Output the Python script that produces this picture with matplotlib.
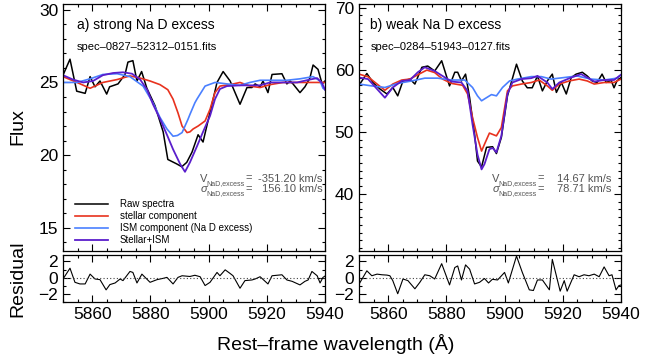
import matplotlib
matplotlib.use("Agg")
import matplotlib.pyplot as plt
from matplotlib.ticker import MultipleLocator
import numpy as np

# ---------------------------------------------------------------
#   datos (longitud de onda en A, flujo)
# ---------------------------------------------------------------

# panel a) strong Na D excess
lam_raw_a = [5850.1, 5852.4, 5854.7, 5857.6, 5859.3, 5861.0, 5862.7, 5865.0, 5866.0, 5868.9,
             5871.3, 5872.3, 5874.0, 5875.4, 5877.0, 5878.8, 5881.6, 5884.4, 5886.0, 5889.0,
             5890.8, 5892.5, 5894.3, 5896.4, 5898.1, 5901.5, 5902.9, 5905.0, 5907.4, 5910.8,
             5913.2, 5914.9, 5916.0, 5917.7, 5918.7, 5920.4, 5921.8, 5925.2, 5926.9, 5928.0,
             5929.0, 5931.4, 5933.1, 5934.8, 5935.9, 5937.6, 5939.0, 5940.0]
raw_a = [25.55, 26.6, 24.4, 24.25, 25.4, 24.7, 25.1, 24.2, 24.7, 24.9,
         25.55, 26.4, 26.5, 25.1, 25.75, 24.6, 23.4, 21.6, 19.7, 19.4,
         19.2, 19.5, 20.2, 21.4, 20.9, 23.8, 25.0, 25.75, 25.1, 23.5,
         24.65, 24.65, 24.9, 24.7, 25.1, 24.3, 25.55, 25.6, 24.9, 25.1,
         24.9, 24.3, 24.7, 25.3, 26.2, 25.9, 24.9, 25.1]

lam_star_a = [5850.0, 5854.8, 5859.3, 5863.7, 5868.6, 5873.0, 5876.5, 5879.9, 5883.3, 5886.0,
              5887.8, 5889.5, 5890.9, 5892.6, 5893.6, 5894.7, 5896.4, 5898.8, 5900.5, 5902.2,
              5903.9, 5907.4, 5910.8, 5914.2, 5917.7, 5921.1, 5925.6, 5930.4, 5934.8, 5940.0]
star_a = [25.4, 25.0, 24.6, 25.0, 25.2, 25.45, 25.3, 25.1, 24.85, 24.5,
          23.85, 22.9, 22.0, 21.55, 21.6, 21.8, 22.0, 22.35, 23.15, 24.3,
          24.75, 24.85, 25.0, 24.75, 24.65, 24.85, 25.0, 25.0, 25.0, 25.0]

lam_ism_a = [5850.0, 5854.8, 5859.3, 5863.7, 5868.6, 5873.0, 5877.5, 5880.9, 5883.3, 5885.7,
             5887.8, 5889.3, 5890.9, 5892.9, 5893.6, 5895.3, 5896.0, 5898.8, 5902.2, 5906.3,
             5910.8, 5914.2, 5917.7, 5922.1, 5926.9, 5931.4, 5935.9, 5938.3, 5939.3, 5940.0]
ism_a = [25.0, 25.0, 25.25, 25.55, 25.6, 25.4, 24.75, 23.6, 22.6, 21.8,
         21.3, 21.35, 21.55, 22.45, 22.8, 23.6, 23.85, 24.75, 25.0, 24.9,
         24.8, 25.0, 25.15, 25.15, 25.15, 25.25, 25.4, 25.1, 24.6, 24.5]

lam_tot_a = [5850.0, 5853.4, 5856.9, 5860.3, 5863.7, 5867.2, 5870.6, 5873.7, 5876.5, 5878.9,
             5880.9, 5883.3, 5885.7, 5887.8, 5890.2, 5891.9, 5893.6, 5896.0, 5898.1, 5900.5,
             5902.2, 5903.9, 5906.3, 5910.8, 5914.2, 5917.7, 5921.1, 5925.6, 5930.4, 5934.8,
             5937.3, 5939.0, 5940.0]
tot_a = [25.5, 25.2, 25.0, 25.1, 25.5, 25.65, 25.7, 25.6, 25.2, 24.5,
         23.5, 22.5, 21.4, 20.4, 19.4, 18.85, 19.5, 20.6, 21.6, 22.7,
         23.85, 24.55, 24.75, 24.8, 24.8, 24.8, 25.0, 25.0, 25.0, 25.2,
         25.3, 24.95, 24.5]

lam_res_a = [5850.0, 5852.4, 5854.1, 5855.8, 5857.6, 5859.3, 5861.0, 5862.7, 5864.8, 5866.1,
             5867.9, 5869.6, 5870.6, 5873.0, 5874.0, 5875.4, 5877.1, 5878.2, 5879.9, 5882.3,
             5884.4, 5885.7, 5887.8, 5889.5, 5890.9, 5893.6, 5895.3, 5897.1, 5898.8, 5900.5,
             5902.9, 5903.9, 5905.7, 5907.4, 5908.4, 5910.8, 5912.5, 5914.9, 5916.0, 5917.7,
             5920.4, 5921.8, 5925.2, 5926.9, 5928.7, 5931.4, 5933.1, 5934.2, 5935.5, 5937.3,
             5938.3, 5939.3, 5940.0]
res_a = [-0.16, 1.17, -0.57, -0.77, -0.77, 0.44, -0.16, -0.24, -1.5, -0.85,
         -0.65, -0.16, -0.36, 0.77, 0.65, -0.65, 0.44, 0.04, -0.57, -0.24,
         -0.08, 0.04, -0.77, 0.04, 0.24, 0.15, 0.3, 0.12, -0.97, -0.57,
         0.65, 0.24, 0.97, 0.52, 0.24, -1.3, -0.36, -0.28, -0.16, 0.12,
         -0.77, 0.24, 0.36, -0.28, -0.45, -0.89, -0.45, -0.28, 0.77, 0.24,
         -0.65, 0.04, 0.2]

# panel b) weak Na D excess
lam_raw_b = [5850.0, 5852.7, 5854.8, 5857.2, 5859.6, 5861.6, 5863.3, 5865.1, 5867.5, 5869.2,
             5871.6, 5873.6, 5876.0, 5878.4, 5881.1, 5882.9, 5883.9, 5885.2, 5886.6, 5888.0,
             5889.7, 5890.7, 5892.1, 5893.8, 5895.9, 5897.2, 5898.9, 5901.0, 5904.1, 5906.1,
             5907.8, 5909.5, 5911.3, 5913.0, 5914.7, 5916.4, 5917.8, 5919.5, 5921.2, 5922.9,
             5924.6, 5926.7, 5928.4, 5930.1, 5931.8, 5933.5, 5934.9, 5936.6, 5937.6, 5938.6,
             5940.0]
raw_b = [57.5, 59.4, 57.95, 56.9, 56.1, 57.15, 55.8, 58.2, 58.5, 57.7,
         60.4, 60.6, 59.8, 61.45, 57.4, 59.6, 59.6, 58.2, 59.3, 55.5,
         49.6, 45.3, 44.35, 47.5, 47.6, 46.5, 49.1, 55.8, 60.9, 58.2,
         57.1, 57.1, 59.0, 56.6, 58.2, 59.3, 56.35, 57.95, 56.1, 58.75,
         59.3, 59.6, 59.0, 58.2, 57.95, 59.3, 57.95, 58.3, 57.1, 58.2,
         58.75]

lam_star_b = [5850.0, 5853.1, 5856.2, 5858.9, 5861.6, 5864.7, 5867.5, 5870.2, 5873.3, 5876.0,
              5878.7, 5881.8, 5885.6, 5887.3, 5889.0, 5890.7, 5892.1, 5893.1, 5894.8, 5897.2,
              5898.9, 5901.0, 5902.7, 5905.8, 5909.2, 5911.9, 5914.7, 5916.4, 5918.8, 5922.2,
              5925.6, 5928.4, 5930.8, 5934.2, 5937.6, 5940.0]
star_b = [59.3, 58.87, 57.7, 56.7, 57.7, 58.35, 58.5, 59.2, 59.95, 59.55,
          58.5, 57.8, 57.5, 56.1, 52.3, 49.1, 46.9, 48.0, 49.8, 49.35,
          50.7, 56.6, 57.4, 57.7, 57.95, 58.35, 57.4, 56.7, 57.7, 58.2,
          58.5, 58.2, 57.7, 57.95, 57.95, 58.5]

lam_ism_b = [5850.0, 5854.4, 5858.9, 5863.3, 5868.1, 5872.6, 5877.0, 5881.8, 5886.3, 5889.0,
             5890.7, 5892.1, 5893.1, 5895.5, 5897.2, 5899.3, 5901.7, 5904.4, 5909.2, 5912.6,
             5916.0, 5920.5, 5924.9, 5929.7, 5934.2, 5938.6, 5940.0]
ism_b = [57.7, 57.4, 57.15, 57.8, 58.2, 58.65, 58.65, 58.35, 58.35, 57.15,
         55.8, 55.0, 55.3, 56.0, 55.8, 57.15, 58.2, 58.5, 58.9, 58.9,
         58.5, 58.75, 59.0, 58.5, 58.35, 58.65, 59.2]

lam_tot_b = [5850.0, 5853.1, 5856.2, 5858.9, 5861.6, 5864.7, 5867.5, 5870.2, 5872.6, 5876.0,
             5878.7, 5881.8, 5885.2, 5887.3, 5889.0, 5890.7, 5892.1, 5893.1, 5894.8, 5895.9,
             5897.2, 5898.9, 5901.0, 5902.7, 5905.8, 5909.2, 5911.3, 5914.7, 5916.4, 5918.8,
             5922.9, 5926.3, 5928.4, 5930.8, 5934.2, 5937.6, 5940.0]
tot_b = [58.75, 58.5, 56.9, 55.5, 57.15, 58.2, 58.35, 59.6, 60.4, 59.8,
         59.0, 58.1, 57.95, 56.6, 51.2, 46.35, 43.95, 44.8, 47.2, 47.4,
         46.7, 49.35, 56.1, 57.95, 58.5, 58.65, 59.0, 57.95, 56.9, 57.95,
         58.75, 59.3, 58.75, 58.1, 58.35, 58.35, 59.2]

lam_res_b = [5850.0, 5852.7, 5854.4, 5856.2, 5857.9, 5859.6, 5860.6, 5861.6, 5863.3, 5865.1,
             5866.8, 5869.2, 5870.9, 5872.6, 5874.3, 5876.0, 5878.4, 5881.1, 5882.9, 5883.9,
             5885.2, 5886.6, 5888.0, 5889.7, 5891.4, 5893.1, 5894.5, 5895.8, 5897.6, 5900.0,
             5901.3, 5904.1, 5906.1, 5908.5, 5909.9, 5911.3, 5913.0, 5915.4, 5916.4, 5919.1,
             5920.5, 5921.5, 5923.9, 5925.6, 5927.3, 5929.0, 5930.8, 5932.5, 5934.2, 5935.9,
             5936.9, 5938.3, 5939.3, 5940.0]
res_b = [-0.8, 0.85, 0.24, 0.44, 0.36, 0.32, 0.24, -0.36, -1.98, -0.16,
         -0.36, -1.37, -0.57, 0.36, 0.24, -0.16, 1.73, -0.89, 1.25, 1.45,
         -0.28, 1.58, 1.05, -0.77, -0.57, -0.1, -0.65, -0.2, -0.28, 0.65,
         -0.65, 2.67, 0.65, -1.5, -1.58, -0.28, -0.28, -1.5, 2.26, -1.66,
         -0.36, -1.66, 0.36, 0.12, 0.36, 0.24, 0.44, 0.12, 1.33, 0.24,
         0.36, -1.5, -0.97, -0.9]

c_raw = "black"
c_star = "#e8321e"
c_ism = "#4a80ff"
c_tot = "#5a1ecc"
c_txt = "#555555"

plt.rcParams["font.family"] = ["Liberation Sans", "DejaVu Sans"]

fig = plt.figure(figsize=(6.45, 3.62), dpi=100)

paneles = [
    dict(x0=0.0977, raw=(lam_raw_a, raw_a), star=(lam_star_a, star_a), ism=(lam_ism_a, ism_a),
         tot=(lam_tot_a, tot_a), res=(lam_res_a, res_a), ylim=(13.4, 30.4), major=5, minor=1,
         titulo="a) strong Na D excess", spec="spec\u20130827\u201352312\u20130151.fits",
         v="-351.20 km/s", s="156.10 km/s", xeq=0.72, xval=0.989),
    dict(x0=0.5566, raw=(lam_raw_b, raw_b), star=(lam_star_b, star_b), ism=(lam_ism_b, ism_b),
         tot=(lam_tot_b, tot_b), res=(lam_res_b, res_b), ylim=(30.8, 70.6), major=10, minor=1.25,
         titulo="b) weak Na D excess", spec="spec\u20130284\u201351943\u20130127.fits",
         v="14.67 km/s", s="78.71 km/s", xeq=0.706, xval=0.962),
]


def etiqueta(ax, x, y, simbolo, valor, xval, estilo="normal"):
    # simbolo + subindice pequeno + "=" alineados a la derecha en x, valor a la derecha en xval
    kw = dict(xycoords=ax.transAxes, textcoords="offset points", color=c_txt,
              ha="right", va="baseline")
    ax.annotate("=", xy=(x, y), xytext=(0, 0), fontsize=8, **kw)
    ax.annotate("NaD,excess", xy=(x, y), xytext=(-5.0, -2.2), fontsize=5, **kw)
    ax.annotate(simbolo, xy=(x, y), xytext=(-32.0, 0), fontsize=8, style=estilo, **kw)
    ax.annotate(valor, xy=(xval, y), xytext=(0, 0), fontsize=8, **kw)


ancho = 0.4062
for i, p in enumerate(paneles):
    ax = fig.add_axes([p["x0"], 0.3066, ancho, 0.6824])
    axr = fig.add_axes([p["x0"], 0.1657, ancho, 0.1299])

    ax.plot(*p["raw"], color=c_raw, lw=1.1, label="Raw spectra")
    ax.plot(*p["star"], color=c_star, lw=1.2, label="stellar component")
    ax.plot(*p["ism"], color=c_ism, lw=1.2, label="ISM component (Na D excess)")
    ax.plot(*p["tot"], color=c_tot, lw=1.3, label="Stellar+ISM")

    ax.set_xlim(5850, 5940)
    ax.set_ylim(*p["ylim"])
    ax.yaxis.set_major_locator(MultipleLocator(p["major"]))
    ax.yaxis.set_minor_locator(MultipleLocator(p["minor"]))

    ax.text(0.053 if i == 0 else 0.042, 0.915, p["titulo"], transform=ax.transAxes,
            fontsize=10, va="center", ha="left")
    ax.text(0.053 if i == 0 else 0.046, 0.826, p["spec"], transform=ax.transAxes,
            fontsize=8, va="center", ha="left")

    # velocidades
    etiqueta(ax, p["xeq"], 0.281, "V", p["v"], p["xval"])
    etiqueta(ax, p["xeq"], 0.240, "\u03c3", p["s"], p["xval"], estilo="italic")

    if i == 0:
        ax.legend(loc="upper left", bbox_to_anchor=(0.047, 0.21), frameon=False, fontsize=7,
                  handlelength=3.4, handletextpad=1.2, labelspacing=0.2,
                  borderpad=0, borderaxespad=0)

    # residuos
    axr.plot(*p["res"], color="black", lw=0.8)
    axr.axhline(0, color="#444444", lw=0.8, ls=(0, (1, 2)))
    axr.set_xlim(5850, 5940)
    axr.set_ylim(-3.0, 2.8)
    axr.yaxis.set_major_locator(MultipleLocator(2))
    axr.yaxis.set_minor_locator(MultipleLocator(1))

    for a in (ax, axr):
        a.xaxis.set_major_locator(MultipleLocator(20))
        a.xaxis.set_minor_locator(MultipleLocator(5))
        a.tick_params(which="both", direction="in", top=True, right=True, labelsize=12.5,
                      width=0.8)
        a.tick_params(which="major", length=5)
        a.tick_params(which="minor", length=2.5)
        for sp in a.spines.values():
            sp.set_linewidth(0.9)
    ax.tick_params(labelbottom=False)
    axr.set_xticks([5860, 5880, 5900, 5920, 5940])

fig.text(0.027, 0.65, "Flux", rotation=90, fontsize=14, ha="center", va="center")
fig.text(0.027, 0.23, "Residual", rotation=90, fontsize=14, ha="center", va="center")
fig.text(0.52, 0.05, "Rest\u2013frame wavelength (\u00c5)", fontsize=14, ha="center", va="center")

fig.savefig("out.png", dpi=100)
